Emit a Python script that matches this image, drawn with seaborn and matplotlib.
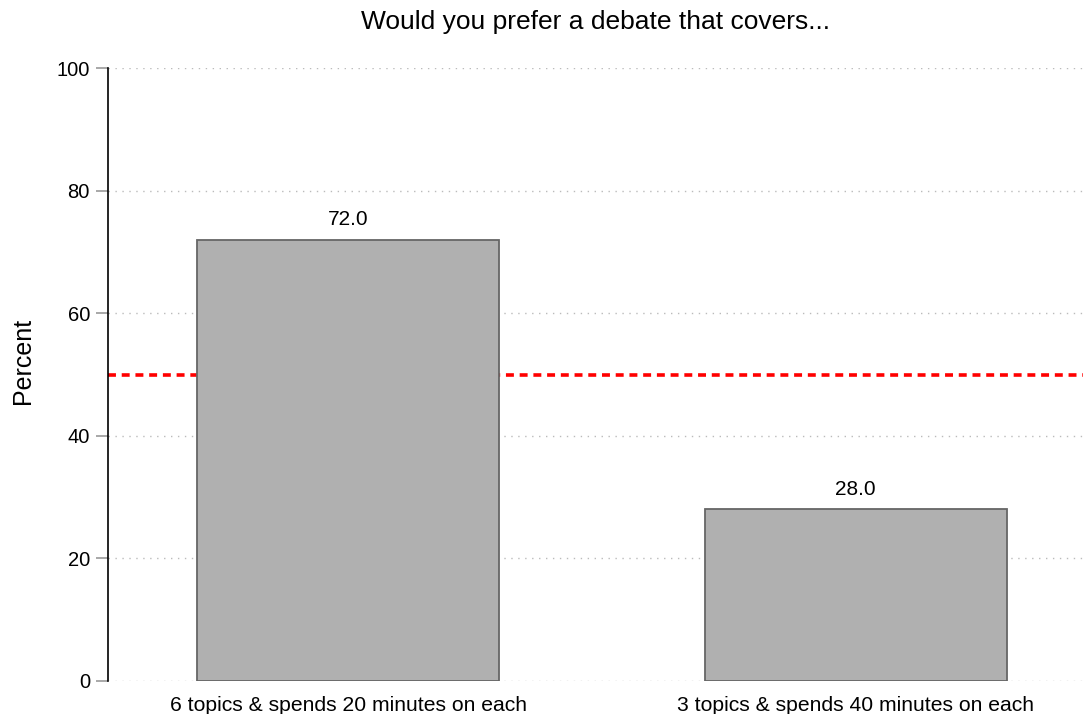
import matplotlib
matplotlib.use("Agg")
import matplotlib.pyplot as plt
import seaborn as sns
import pandas as pd

categories = ["6 topics & spends 20 minutes on each", "3 topics & spends 40 minutes on each"]
percents = [72.0, 28.0]
yticks = [0, 20, 40, 60, 80, 100]
title = "Would you prefer a debate that covers..."
reference_level = 50

sns.set_theme(style="white")
plt.rcParams["font.family"] = ["Liberation Sans", "DejaVu Sans"]

df = pd.DataFrame({"option": categories, "percent": percents})

fig = plt.figure(figsize=(10.86, 7.14), dpi=100)
ax = fig.add_axes([108 / 1086, 1 - 681 / 714, 975 / 1086, 613 / 714])

sns.barplot(data=df, x="option", y="percent", color="#b0b0b0", saturation=1,
            width=0.595, edgecolor="#666666", linewidth=1.3, ax=ax, zorder=3)

ax.axhline(reference_level, color="#ff0000", linestyle=(0, (2.2, 1.6)),
           linewidth=2.6, zorder=2)

for i, v in enumerate(percents):
    ax.text(i, v + 1.7, f"{v:.1f}", ha="center", va="bottom", fontsize=15,
            color="black", zorder=4)

ax.set_ylim(0, 100)
ax.set_xlim(-0.473, 1.448)
ax.set_yticks(yticks)
ax.yaxis.grid(True, linestyle=(0, (1, 4)), color="#bbbbbb", linewidth=1)
ax.set_axisbelow(True)

for side in ["top", "right", "bottom"]:
    ax.spines[side].set_visible(False)
ax.spines["left"].set_color("black")
ax.spines["left"].set_linewidth(1.2)

ax.tick_params(axis="y", which="major", left=True, length=9, width=1.2,
               color="#999999", labelsize=14.5, pad=4, labelcolor="black")
ax.tick_params(axis="x", bottom=False, labelsize=15.2, pad=5, labelcolor="black")

ax.set_xlabel("")
ax.set_ylabel("Percent", fontsize=18, color="black")
ax.yaxis.set_label_coords(-0.075, 0.522)
ax.set_title(title, fontsize=19, pad=28, color="black")

fig.savefig("out.png", dpi=100)
